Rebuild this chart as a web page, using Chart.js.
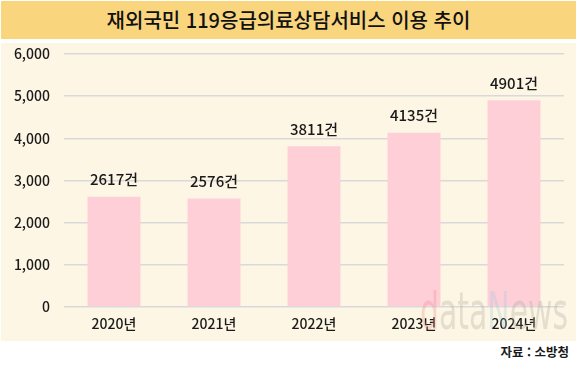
<!DOCTYPE html>
<html lang="ko">
<head>
<meta charset="UTF-8">
<title>재외국민 119응급의료상담서비스 이용 추이</title>
<script src="https://cdn.jsdelivr.net/npm/chart.js"></script>
<style>
  html, body { margin: 0; padding: 0; background: #fff; }
  body { width: 580px; height: 368px; position: relative; overflow: hidden;
         font-family: "Noto Sans CJK KR", "Noto Sans", sans-serif; color: #1a1a1a; }
  #title { position: absolute; left: 1px; top: 1px; width: 575px; height: 38px;
           background: #f9d67e; text-align: center; line-height: 38px;
           font-size: 20px; font-weight: 500; color: #111; }
  #panel { position: absolute; left: 1px; top: 43px; width: 575px; height: 298px;
           background: #fdf6e4; }
  #source { position: absolute; right: 11px; top: 343px; font-size: 12.5px;
            font-weight: 700; line-height: 18px; }
</style>
</head>
<body>
<div id="title">재외국민 119응급의료상담서비스 이용 추이</div>
<div id="panel"><canvas id="chart" width="575" height="298"></canvas></div>
<div id="source">자료 : 소방청</div>

<script>
  const years = ['2020년', '2021년', '2022년', '2023년', '2024년'];
  const counts = [2617, 2576, 3811, 4135, 4901];
  const unit = '건';

  // value labels above each bar
  const valueLabels = {
    id: 'valueLabels',
    afterDatasetsDraw(chart) {
      const ctx = chart.ctx;
      const meta = chart.getDatasetMeta(0);
      ctx.save();
      ctx.font = '500 15px "Noto Sans CJK KR", sans-serif';
      ctx.fillStyle = '#1a1a1a';
      ctx.textAlign = 'center';
      ctx.textBaseline = 'middle';
      meta.data.forEach((bar, i) => {
        ctx.fillText(counts[i] + unit, bar.x, bar.y - 17);
      });
      ctx.restore();
    }
  };

  // faint watermark
  const watermark = {
    id: 'watermark',
    afterDraw(chart) {
      const ctx = chart.ctx;
      const parts = [['d', '#e88a8a'], ['ata', '#a8a49a'], ['N', '#9cc8dc'], ['ews', '#a8a49a']];
      ctx.save();
      ctx.globalAlpha = 0.3;
      ctx.font = '52px "DejaVu Sans", sans-serif';
      ctx.textBaseline = 'alphabetic';
      const total = ctx.measureText('dataNews').width;
      ctx.translate(419, 286);
      ctx.scale(148 / total, 1);
      let x = 0;
      parts.forEach(([t, c]) => {
        ctx.fillStyle = c;
        ctx.fillText(t, x, 0);
        x += ctx.measureText(t).width;
      });
      ctx.restore();
    }
  };

  new Chart(document.getElementById('chart'), {
    type: 'bar',
    data: {
      labels: years,
      datasets: [{
        data: counts,
        backgroundColor: '#ffcfd8',
        barPercentage: 0.53,
        categoryPercentage: 1.0
      }]
    },
    options: {
      responsive: false,
      animation: false,
      layout: { padding: { top: 11, right: 12, bottom: 0, left: 0 } },
      plugins: { legend: { display: false }, tooltip: { enabled: false } },
      scales: {
        x: {
          grid: { display: false },
          border: { display: false },
          ticks: { color: '#1a1a1a', padding: 0, font: { family: '"Noto Sans CJK KR", sans-serif', size: 14, weight: 500 } },
          afterFit(scale) { scale.height = 34; }
        },
        y: {
          min: 0,
          max: 6000,
          ticks: {
            stepSize: 1000,
            padding: 14,
            color: '#1a1a1a',
            font: { family: '"Noto Sans CJK KR", sans-serif', size: 14, weight: 500 },
            callback: v => v.toLocaleString('en-US')
          },
          grid: { color: '#d9d9d9', lineWidth: 1.5, drawTicks: false },
          border: { display: false },
          afterFit(scale) {
            scale.width = 63;
            scale.paddingTop = 0;
            scale.paddingBottom = 0;
          }
        }
      }
    },
    plugins: [valueLabels, watermark]
  });
</script>
</body>
</html>
